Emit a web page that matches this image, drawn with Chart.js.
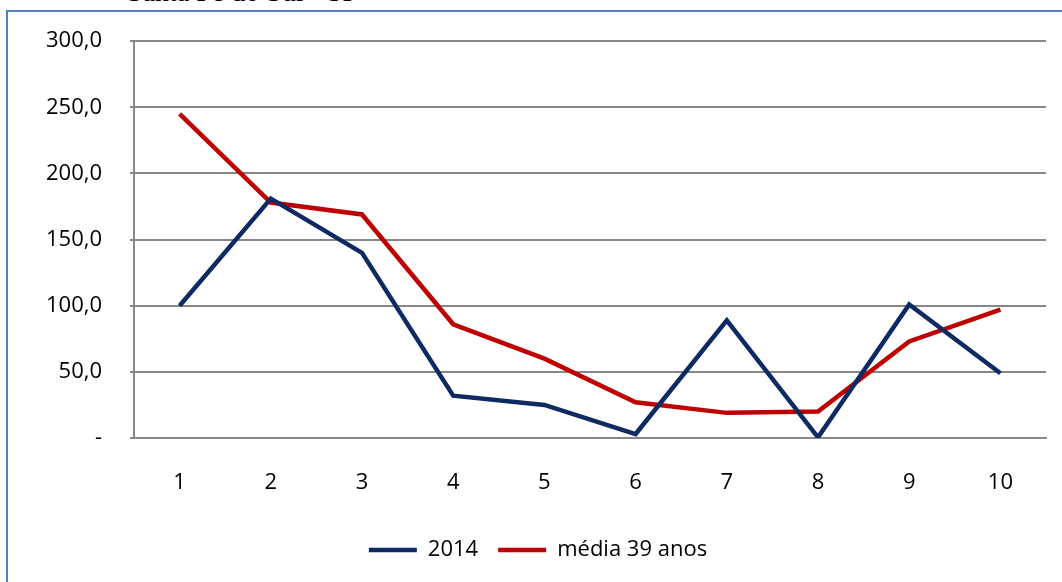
<!DOCTYPE html>
<html>
<head>
<meta charset="utf-8">
<script src="https://cdn.jsdelivr.net/npm/chart.js@4.4.1/dist/chart.umd.min.js"></script>
<style>
  html, body { margin: 0; padding: 0; background: #fff; overflow: hidden; }
  #wrap { position: relative; width: 1062px; height: 582px; }
  #frame { position: absolute; left: 6px; top: 10px; right: -10px; bottom: -10px;
           border-left: 2px solid #4f81bd; border-top: 2px solid #4f81bd; }
  #titulo { position: absolute; left: 127px; top: -22px; font: 28px "Liberation Serif", serif;
            line-height: 28px; color: #000; white-space: nowrap; }
  canvas { position: absolute; left: 0; top: 0; }
</style>
</head>
<body>
<div id="wrap">
  <div id="titulo">Santa Fé do Sul - SP</div>
  <div id="frame"></div>
  <canvas id="grafico" width="1062" height="582"></canvas>
</div>
<script>
// dados
var meses = ['1', '2', '3', '4', '5', '6', '7', '8', '9', '10'];
var chuva2014 = [100, 181, 140, 32, 25, 3, 89, 0.5, 101, 49];
var media39 = [245, 178, 169, 86, 60, 27, 19, 20, 73, 97];

var fonte = { family: '"Open Sans", sans-serif', size: 22 };

var ctx = document.getElementById('grafico').getContext('2d');
var grafico = new Chart(ctx, {
    type: 'line',
    data: {
        labels: meses,
        datasets: [{
            label: '2014',
            data: chuva2014,
            borderColor: '#0e2a62',
            backgroundColor: '#0e2a62',
            borderWidth: 4.5,
            pointRadius: 0,
            tension: 0
        }, {
            label: 'média 39 anos',
            data: media39,
            borderColor: '#c00000',
            backgroundColor: '#c00000',
            borderWidth: 4.5,
            pointRadius: 0,
            tension: 0
        }]
    },
    options: {
        responsive: false,
        animation: false,
        layout: { padding: { top: 41, right: 16, bottom: 11, left: 30 } },
        plugins: {
            tooltip: { enabled: false },
            legend: {
                position: 'bottom',
                labels: {
                    usePointStyle: true,
                    pointStyle: 'line',
                    pointStyleWidth: 48,
                    padding: 20,
                    color: '#000',
                    font: fonte
                }
            }
        },
        scales: {
            x: {
                offset: true,
                grid: { display: false, drawTicks: false },
                border: { display: true, color: '#878787', width: 2 },
                ticks: { color: '#000', font: fonte, padding: 32, maxRotation: 0 },
                afterFit: function (scale) { scale.height = 81; }
            },
            y: {
                min: 0,
                max: 300,
                grid: { color: '#878787', lineWidth: 2, tickLength: 4 },
                border: { display: true, color: '#878787', width: 2 },
                ticks: {
                    stepSize: 50,
                    color: '#000',
                    font: fonte,
                    padding: 28,
                    callback: function (v) {
                        return v === 0 ? '-' : v.toFixed(1).replace('.', ',');
                    }
                },
                afterFit: function (scale) { scale.width = 104; }
            }
        }
    }
});
</script>
</body>
</html>
